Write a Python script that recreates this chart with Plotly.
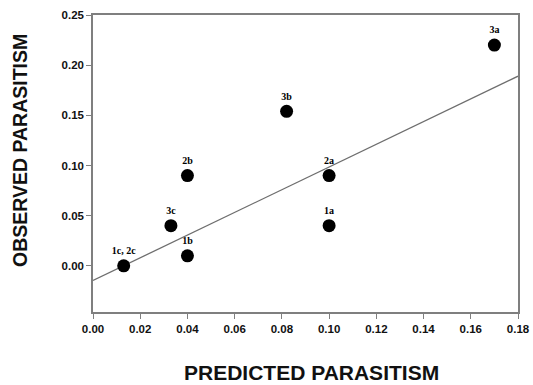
import plotly.graph_objects as go

labels = ["1c, 2c", "3c", "1b", "2b", "3b", "2a", "1a", "3a"]
predicted = [0.013, 0.033, 0.040, 0.040, 0.082, 0.100, 0.100, 0.170]
observed = [0.000, 0.040, 0.010, 0.090, 0.154, 0.090, 0.040, 0.220]

fit_x = [0.0, 0.18]
fit_y = [-0.0146, 0.189]

x_ticks = [0.00, 0.02, 0.04, 0.06, 0.08, 0.10, 0.12, 0.14, 0.16, 0.18]
y_ticks = [0.00, 0.05, 0.10, 0.15, 0.20, 0.25]

axis_col = "#7f7f7f"

fig = go.Figure()
fig.add_trace(go.Scatter(x=fit_x, y=fit_y, mode="lines",
                         line=dict(color="#6e6e6e", width=1.3), hoverinfo="skip"))
fig.add_trace(go.Scatter(x=predicted, y=observed, mode="markers+text",
                         text=labels, textposition="top center",
                         textfont=dict(family="Liberation Serif", size=10, color="black", weight="bold"),
                         marker=dict(color="black", size=13)))

fig.update_layout(
    width=533, height=385,
    margin=dict(l=93, r=15, t=15, b=73),
    plot_bgcolor="white", paper_bgcolor="white",
    showlegend=False,
    font=dict(family="Liberation Sans", color="black"),
    annotations=[
        dict(text="<b>PREDICTED PARASITISM</b>", xref="paper", yref="paper",
             x=0.515, y=-0.205, showarrow=False, xanchor="center", yanchor="middle",
             font=dict(size=21, family="Liberation Sans", color="#111")),
        dict(text="<b>OBSERVED PARASITISM</b>", xref="paper", yref="paper",
             x=-0.172, y=0.545, showarrow=False, xanchor="center", yanchor="middle",
             textangle=-90,
             font=dict(size=19.5, family="Liberation Sans", color="#111")),
    ],
)
fig.update_xaxes(
    range=[0, 0.18], tickvals=x_ticks, ticktext=[f"{v:.2f}" for v in x_ticks],
    showgrid=False, zeroline=False, showline=True, linecolor=axis_col, linewidth=1.5,
    mirror=True, ticks="outside", ticklen=5, tickcolor=axis_col, automargin=False,
    tickfont=dict(family="Liberation Sans", size=11.5, color="#111", weight="bold"),
)
fig.update_yaxes(
    range=[-0.046, 0.25], tickvals=y_ticks, ticktext=[f"{v:.2f}" for v in y_ticks],
    showgrid=False, zeroline=False, showline=True, linecolor=axis_col, linewidth=1.5,
    mirror=True, ticks="outside", ticklen=5, tickcolor=axis_col, automargin=False,
    tickfont=dict(family="Liberation Sans", size=11.5, color="#111", weight="bold"),
)
fig.write_html("out.html", config={"displayModeBar": False},
               post_script="document.body.style.margin='0';document.body.style.overflow='hidden';")
